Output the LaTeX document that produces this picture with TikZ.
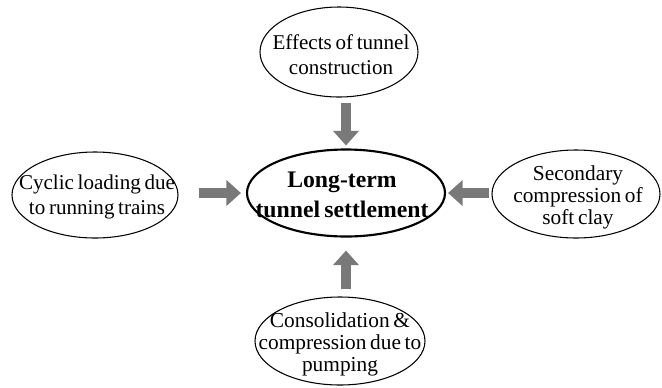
\documentclass[tikz,border=0pt]{standalone}
\usepackage{fontspec}
\setmainfont{Liberation Serif}[WordSpace=0.7]
\usetikzlibrary{shapes.geometric,arrows.meta}
\begin{document}
\begin{tikzpicture}[x=0.75pt,y=-0.75pt,
  oval/.style={draw=black, line width=0.8pt, ellipse, inner sep=0pt},
  mainoval/.style={draw=black, line width=1.6pt, ellipse, inner sep=0pt},
  label2/.style={inner sep=0pt, align=center, font=\fontsize{15.8}{18.75}\selectfont},
  label3/.style={inner sep=0pt, align=center, font=\fontsize{16}{16.5}\selectfont},
  mainlabel/.style={inner sep=0pt, align=center, font=\fontsize{17.8}{22.5}\selectfont\bfseries},
  fatarrow/.style={draw=gray!95!black, line width=8pt,
    -{Triangle[width=19pt,length=11pt]}}]
\useasboundingbox (0,0) rectangle (662,387);
\node[mainoval, minimum width=148.5pt, minimum height=65.25pt] (c) at (346,193) {};
\node[mainlabel] (ct) at (342,195) {Long-term\\tunnel settlement};
\node[oval, minimum width=118.5pt, minimum height=67.5pt] (t) at (339,52) {};
\node[label2] (tt) at (341,55) {Effects of tunnel\\construction};
\node[oval, minimum width=124.5pt, minimum height=64.5pt] (l) at (95,195) {};
\node[label2] (lt) at (97,197) {Cyclic loading due\\to running trains};
\node[oval, minimum width=126pt, minimum height=66pt] (r) at (576,194) {};
\node[label3] (rt) at (578,197) {Secondary\\compression of\\soft clay};
\node[oval, minimum width=127.5pt, minimum height=66pt] (b) at (340,341) {};
\node[label3] (bt) at (340,344) {Consolidation \&\\compression due to\\pumping};
\draw[fatarrow, shorten <=3.75pt, shorten >=2.25pt] (t.south -| c.north) -- (c.north);
\draw[fatarrow, shorten <=15pt, shorten >=3.75pt] (l.east |- c.west) -- (c.west);
\draw[fatarrow, shorten <=1.5pt, shorten >=1.5pt] (r.west |- c.east) -- (c.east);
\draw[fatarrow, shorten <=5.25pt, shorten >=9.75pt] (b.north -| c.south) -- (c.south);
\end{tikzpicture}
\end{document}
